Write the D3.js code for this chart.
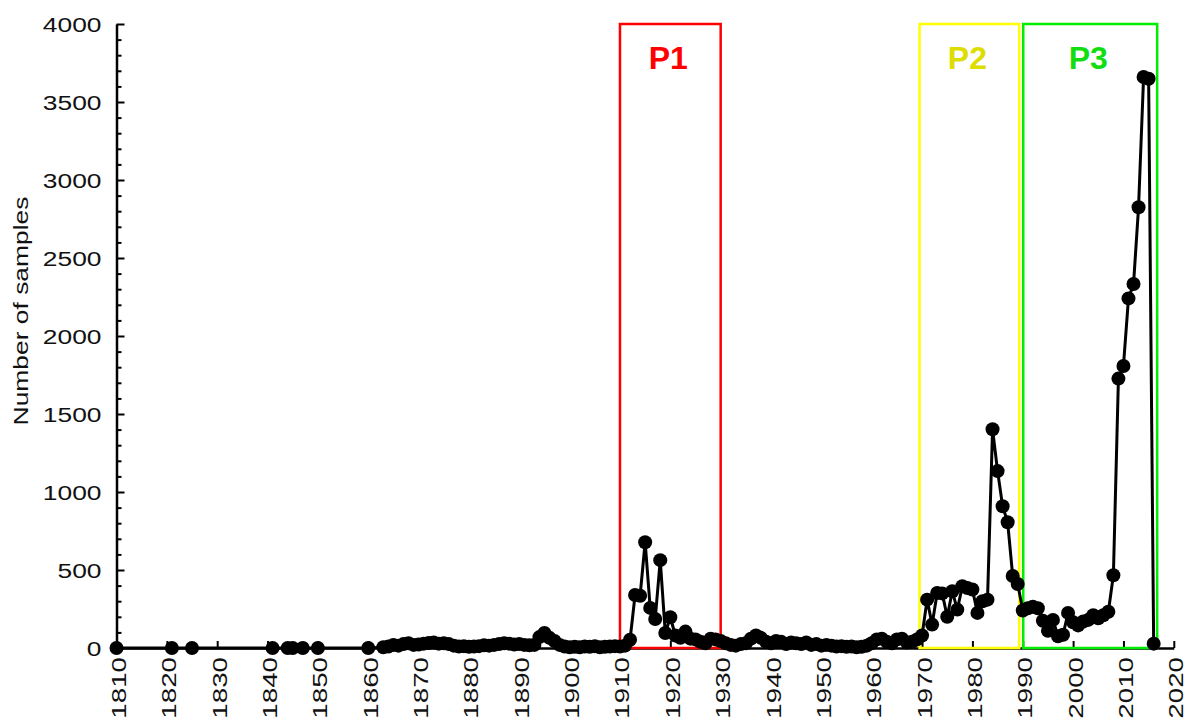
<!DOCTYPE html>
<html>
<head>
<meta charset="utf-8">
<script src="https://cdn.jsdelivr.net/npm/d3@7"></script>
<style>
  body { margin: 0; background: #fff; }
  text { font-family: "Liberation Sans", Arial, sans-serif; }
</style>
</head>
<body>
<div id="chart"></div>
<script>
// Data: years and number of samples per year
var years = [1810, 1821, 1825, 1841, 1844, 1845, 1847, 1850, 1860,
  1863, 1864, 1865, 1866, 1867, 1868, 1869, 1870, 1871, 1872, 1873, 1874, 1875, 1876, 1877, 1878, 1879,
  1880, 1881, 1882, 1883, 1884, 1885, 1886, 1887, 1888, 1889, 1890, 1891, 1892, 1893, 1894, 1895, 1896,
  1897, 1898, 1899, 1900, 1901, 1902, 1903, 1904, 1905, 1906, 1907, 1908, 1909, 1910, 1911, 1912, 1913,
  1914, 1915, 1916, 1917, 1918, 1919, 1920, 1921, 1922, 1923, 1924, 1925, 1926, 1927, 1928, 1929, 1930,
  1931, 1932, 1933, 1934, 1935, 1936, 1937, 1938, 1939, 1940, 1941, 1942, 1943, 1944, 1945, 1946, 1947,
  1948, 1949, 1950, 1951, 1952, 1953, 1954, 1955, 1956, 1957, 1958, 1959, 1960, 1961, 1962, 1963, 1964,
  1965, 1966, 1967, 1968, 1969, 1970, 1971, 1972, 1973, 1974, 1975, 1976, 1977, 1978, 1979, 1980, 1981,
  1982, 1983, 1984, 1985, 1986, 1987, 1988, 1989, 1990, 1991, 1992, 1993, 1994, 1995, 1996, 1997, 1998,
  1999, 2000, 2001, 2002, 2003, 2004, 2005, 2006, 2007, 2008, 2009, 2010, 2011, 2012, 2013, 2014, 2015,
  2016];
var samples = [0, 0, 0, 0, 0, 0, 0, 0, 0,
  5, 10, 20, 15, 25, 30, 20, 22, 28, 32, 35, 28, 30, 25, 15, 10, 12,
  8, 10, 12, 18, 15, 20, 25, 30, 28, 22, 25, 20, 18, 20, 70, 96, 65,
  45, 20, 10, 5, 8, 5, 10, 8, 12, 5, 8, 10, 12, 10, 15, 53, 340,
  335, 678, 257, 186, 563, 96, 197, 80, 65, 105, 60, 55, 40, 30, 60, 55, 45,
  30, 20, 15, 25, 30, 60, 80, 65, 40, 30, 45, 40, 25, 35, 30, 25, 35,
  20, 25, 15, 20, 15, 10, 12, 8, 10, 5, 8, 15, 30, 55, 60, 40, 30,
  55, 60, 35, 40, 55, 80, 310, 150, 353, 350, 200, 364, 246, 396, 385, 375, 225,
  300, 310, 1402, 1134, 909, 806, 462, 410, 240, 255, 265, 255, 175, 110, 180, 75, 85,
  225, 165, 145, 170, 180, 210, 190, 210, 232, 466, 1727, 1808, 2241, 2333, 2825, 3660, 3649,
  28];

// Highlighted periods
var periodNames = ["P1", "P2", "P3"];
var periodStart = [1910, 1969.5, 1990.1];
var periodEnd = [1930, 1989.3, 2016.7];

// Tick labels
var xTickValues = [1810, 1820, 1830, 1840, 1850, 1860, 1870, 1880, 1890, 1900, 1910,
  1920, 1930, 1940, 1950, 1960, 1970, 1980, 1990, 2000, 2010, 2020];
var yTickValues = [0, 500, 1000, 1500, 2000, 2500, 3000, 3500, 4000];
var yMinorTickValues = d3.range(0, 4001, 100).filter(function(v) { return v % 500 != 0; });

// Styles
var boxColors = ["#ff0000", "#ffff00", "#00ee00"];
var labelColors = ["#ff0000", "#dddd00", "#11dd11"];
var stretch = 1.32;

var totalWidth = 1189, totalHeight = 718;
var margin = {top: 24, left: 116.5};
var width = 1057.3;
var height = 624;

var svg = d3.select("#chart")
  .append("svg")
  .attr("width", totalWidth)
  .attr("height", totalHeight)
  .append("g")
  .attr("transform", "translate(" + margin.left + "," + margin.top + ")");

var x = d3.scaleLinear()
  .domain([1810, 2020])
  .range([0, width]);

var y = d3.scaleLinear()
  .domain([0, 4000])
  .range([height, 0]);

// Y axis: major ticks with labels, ticks pointing inside
var yAxisG = svg.append("g")
  .call(d3.axisLeft(y).tickValues(yTickValues).tickSizeInner(-8).tickSizeOuter(0).tickFormat(d3.format("d")));
yAxisG.select(".domain").attr("stroke-width", 2.5);
yAxisG.selectAll(".tick line").attr("stroke-width", 2);
yAxisG.selectAll(".tick text")
  .attr("font-size", 20)
  .attr("fill", "#111")
  .attr("text-anchor", "end")
  .attr("x", -15 / stretch)
  .attr("dy", "0.35em")
  .attr("transform", "scale(" + stretch + ",1)");

// Y axis minor ticks
var yMinorG = svg.append("g")
  .call(d3.axisLeft(y).tickValues(yMinorTickValues).tickSizeInner(-5).tickSizeOuter(0).tickFormat(""));
yMinorG.select(".domain").remove();
yMinorG.selectAll(".tick line").attr("stroke-width", 2);

// X axis with rotated labels
var xAxisG = svg.append("g")
  .attr("transform", "translate(0," + height + ")")
  .call(d3.axisBottom(x).tickValues(xTickValues).tickSizeInner(-7).tickSizeOuter(0).tickFormat(d3.format("d")));
xAxisG.select(".domain").attr("stroke-width", 2.5);
xAxisG.selectAll(".tick line").attr("stroke-width", 2);
xAxisG.selectAll(".tick text")
  .attr("font-size", 21)
  .attr("fill", "#111")
  .attr("text-anchor", "end")
  .attr("x", -9 / stretch)
  .attr("y", 9)
  .attr("dy", null)
  .attr("transform", "rotate(-90) scale(" + stretch + ",1)");

// Y axis title
svg.append("text")
  .attr("transform", "translate(" + (28 - margin.left) + "," + (311 - margin.top) + ") rotate(-90) scale(" + stretch + ",1)")
  .attr("text-anchor", "middle")
  .attr("font-size", 20)
  .attr("fill", "#111")
  .text("Number of samples");

// Period boxes
svg.append("g")
  .selectAll("rect")
  .data(periodNames)
  .enter()
  .append("rect")
  .attr("x", function(d, i) { return x(periodStart[i]); })
  .attr("y", y(4000))
  .attr("width", function(d, i) { return x(periodEnd[i]) - x(periodStart[i]); })
  .attr("height", y(0) - y(4000))
  .attr("fill", "none")
  .attr("stroke", function(d, i) { return boxColors[i]; })
  .attr("stroke-width", 2.5);

svg.append("g")
  .selectAll("text")
  .data(periodNames)
  .enter()
  .append("text")
  .attr("x", function(d, i) { return (x(periodStart[i]) + x(periodEnd[i])) / 2 - 2; })
  .attr("y", 69 - margin.top)
  .attr("text-anchor", "middle")
  .attr("font-size", 32)
  .attr("font-weight", "bold")
  .attr("fill", function(d, i) { return labelColors[i]; })
  .text(function(d) { return d; });

// Line and points
var points = years.map(function(yr, i) { return {year: yr, value: samples[i]}; });

svg.append("path")
  .datum(points)
  .attr("fill", "none")
  .attr("stroke", "#000")
  .attr("stroke-width", 3)
  .attr("stroke-linejoin", "round")
  .attr("d", d3.line()
    .x(function(d) { return x(d.year); })
    .y(function(d) { return y(d.value); }));

svg.append("g")
  .selectAll("circle")
  .data(points)
  .enter()
  .append("circle")
  .attr("cx", function(d) { return x(d.year); })
  .attr("cy", function(d) { return y(d.value); })
  .attr("r", 7)
  .attr("fill", "#000");
</script>
</body>
</html>
